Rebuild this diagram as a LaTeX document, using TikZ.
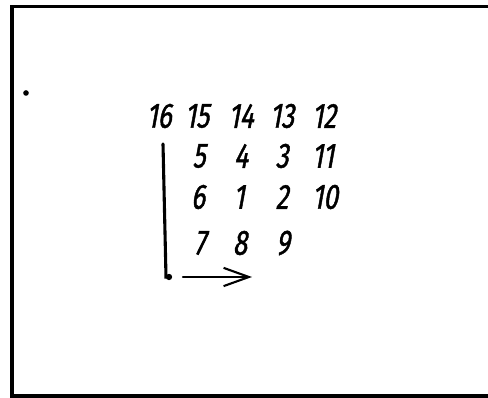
\documentclass[tikz,border=0pt]{standalone}
\usepackage{fontspec}
\newfontfamily\handfont[FakeStretch=0.74,FakeSlant=0.18,FakeBold=1.2]{Fira Sans}
\usetikzlibrary{arrows.meta}

\begin{document}
\begin{tikzpicture}[
  x=0.025cm, y=-0.025cm,
  num/.style={font=\handfont\fontsize{25}{26}\selectfont, inner sep=0pt},
  frame/.style={draw=black, line width=2.8pt},
  stroke/.style={draw=black, line width=2.2pt, line cap=round},
  blob/.style={circle, fill=black, inner sep=0pt, minimum size=4pt}
]
\useasboundingbox (0,0) rectangle (488,398);
\draw[frame] (488,6.5) -- (12,6.5) -- (12,396) -- (488,396);
\node[blob] (mark) at (26,93) {};
% outer ring
\node[num] (n16) at (159,116) {16};
\node[num] (n15) at (197,116) {15};
\node[num] (n14) at (241,116) {14};
\node[num] (n13) at (282,116) {13};
\node[num] (n12) at (324,116) {12};
\node[num] (n11) at (323,156) {11};
\node[num] (n10) at (325,197) {10};
% inner square
\node[num] (n5) at (199,156) {5};
\node[num] (n4) at (241,156) {4};
\node[num] (n3) at (282,156) {3};
\node[num] (n6) at (198,197) {6};
\node[num] (n1) at (239,197) {1};
\node[num] (n2) at (282,197) {2};
\node[num] (n7) at (200,243) {7};
\node[num] (n8) at (240,243) {8};
\node[num] (n9) at (283,243) {9};
% direction
\coordinate (top) at (163,144);
\coordinate (bend) at (166,277);
\node[blob, minimum size=4.5pt] (corner) at (169,277) {};
\coordinate (from) at (183,277);
\coordinate (to) at (252,277);
\draw[stroke] (top) -- (bend) -- (corner.center);
\draw[stroke, line width=1.5pt, -{Straight Barb[length=18pt, width=13pt]}] (from) -- (to);
\end{tikzpicture}
\end{document}
